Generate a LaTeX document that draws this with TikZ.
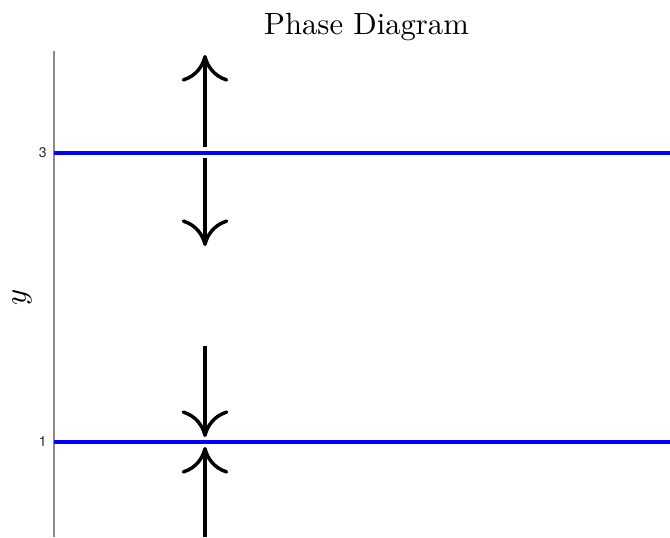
\documentclass[tikz,border=0pt]{standalone}
\usepackage{fontspec}
\newfontfamily\ticksfont{TeX Gyre Heros}
\usepackage{xcolor}
\definecolor{axisgray}{RGB}{140, 140, 140}
\definecolor{eqblue}{RGB}{0, 0, 255}
\definecolor{ticktext}{RGB}{40, 40, 40}
\usetikzlibrary{arrows.meta, positioning, calc}

\begin{document}
\begin{tikzpicture}[x=0.75pt, y=-0.75pt,
    flow/.style={line width=3pt, black, -{Computer Modern Rightarrow[length=20pt, width=35pt, line width=2.6pt]}},
    equil/.style={line width=2.3pt, eqblue},
    ticklabel/.style={font=\ticksfont\fontsize{10.5}{12}\selectfont, text=ticktext, anchor=east, inner sep=0pt}]
    \useasboundingbox (0,0) rectangle (670,537);

    % axis and equilibria
    \draw[axisgray, line width=1.2pt] (54,51) -- (54,537);
    \draw[equil] (54,153) -- (670,153);
    \draw[equil] (54,442) -- (670,442);
    \node[ticklabel] (t3) at (47,153) {3};
    \node[ticklabel] (t1) at (47,442) {1};

    % flow direction
    \coordinate (a1) at (205,147); \coordinate (b1) at (205,55);
    \coordinate (a2) at (205,158); \coordinate (b2) at (205,246);
    \coordinate (a3) at (205,346); \coordinate (b3) at (205,437);
    \coordinate (a4) at (205,537); \coordinate (b4) at (205,447);
    \draw[flow] (a1) -- (b1);
    \draw[flow] (a2) -- (b2);
    \draw[flow] (a3) -- (b3);
    \draw[flow] (a4) -- (b4);

    \node[inner sep=0pt] (title) at (366.5,27) {\scalebox{2.3}{Phase Diagram}};
    \node[inner sep=0pt, rotate=90] (ylab) at (22,297) {\scalebox{2.3}{$y$}};
\end{tikzpicture}
\end{document}
